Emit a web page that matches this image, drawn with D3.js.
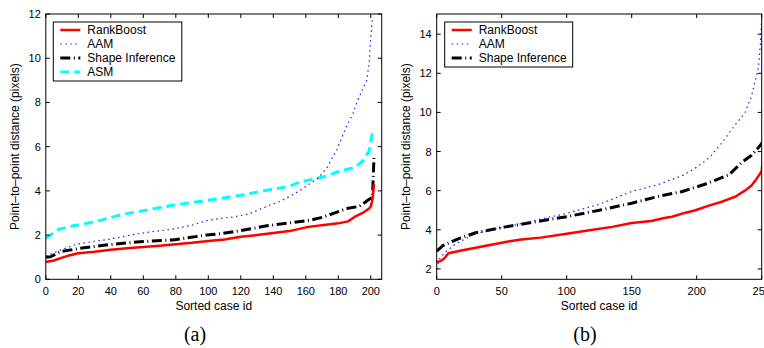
<!DOCTYPE html>
<html>
<head>
<meta charset="utf-8">
<script src="https://cdn.jsdelivr.net/npm/d3@7"></script>
<style>
  body { margin: 0; background: #fff; }
  svg { display: block; }
  text { font-family: "Liberation Sans", Arial, sans-serif; fill: #000; }
</style>
</head>
<body>
<div id="chart"></div>
<script>
// ---- data ----
// panel (a)
const rankIdsA = [0, 5, 10, 13, 20, 30, 40, 50, 60, 70, 80, 90, 100, 110, 120, 130, 140, 150, 160, 170, 180, 186, 190, 195, 199, 200, 201, 202];
const rankValsA = [0.78, 0.85, 0.98, 1.05, 1.18, 1.25, 1.34, 1.40, 1.46, 1.52, 1.59, 1.65, 1.73, 1.80, 1.92, 2.00, 2.09, 2.18, 2.35, 2.45, 2.53, 2.62, 2.82, 3.0, 3.2, 3.3, 3.6, 4.3];
const aamIdsA = [0, 5, 9, 19, 30, 38, 58, 78, 90, 99, 107, 115, 125, 136, 145, 150, 156, 163, 168, 173, 179, 185, 189, 192, 195, 197.5, 199, 200, 201];
const aamValsA = [1.05, 1.2, 1.32, 1.59, 1.72, 1.8, 2.08, 2.27, 2.45, 2.65, 2.75, 2.82, 2.95, 3.3, 3.55, 3.75, 4.0, 4.35, 4.6, 5.05, 5.85, 6.9, 7.5, 8.1, 8.6, 9.0, 9.8, 11.0, 11.8];
const shapeIdsA = [0, 3, 9, 21, 37, 58, 78, 99, 107, 120, 136, 150, 163, 170, 177, 185, 193, 199, 201, 202];
const shapeValsA = [1.0, 1.02, 1.25, 1.4, 1.55, 1.7, 1.78, 2.0, 2.06, 2.2, 2.42, 2.55, 2.68, 2.8, 2.98, 3.2, 3.3, 3.62, 3.7, 5.6];
const asmIdsA = [0, 3, 6, 9, 17, 30, 48, 60, 78, 99, 107, 120, 136, 150, 156, 163, 172, 181, 190, 195, 199, 201];
const asmValsA = [1.85, 2.0, 2.2, 2.28, 2.42, 2.6, 2.95, 3.1, 3.35, 3.57, 3.65, 3.8, 4.03, 4.2, 4.4, 4.5, 4.65, 4.9, 5.05, 5.35, 5.8, 6.7];

// panel (b)
const rankIdsB = [0, 3, 6, 9, 20, 35, 53, 65, 80, 100, 120, 135, 150, 165, 175, 181, 190, 199, 210, 220, 230, 237, 242, 246, 250, 252];
const rankValsB = [2.35, 2.4, 2.55, 2.8, 2.95, 3.15, 3.38, 3.5, 3.6, 3.8, 4.0, 4.15, 4.35, 4.45, 4.6, 4.67, 4.85, 5.0, 5.25, 5.45, 5.7, 6.0, 6.25, 6.6, 7.0, 8.4];
const aamIdsB = [0, 2, 6.6, 15, 30, 45, 60, 80, 100, 125, 150, 170, 190, 200, 210, 220, 230, 237, 242, 247.5, 249, 250, 251];
const aamValsB = [2.0, 2.5, 2.86, 3.3, 3.8, 4.05, 4.24, 4.55, 4.84, 5.3, 5.96, 6.3, 6.8, 7.2, 7.7, 8.5, 9.4, 9.96, 10.8, 12.3, 13.5, 14.8, 15.5];
const shapeIdsB = [0, 5, 17, 30, 53, 75, 100, 125, 150, 170, 189, 205, 215, 225, 235, 242, 248, 252];
const shapeValsB = [2.91, 3.2, 3.55, 3.85, 4.15, 4.4, 4.67, 5.0, 5.36, 5.7, 5.96, 6.3, 6.55, 6.82, 7.46, 7.8, 8.24, 8.6];

const ticksXA = d3.range(0, 201, 20);
const ticksYA = d3.range(0, 13, 2);
const ticksXB = d3.range(0, 251, 50);
const ticksYB = d3.range(2, 15, 2);

// ---- styles ----
const STYLES = {
  'RankBoost':       {color: '#ff0000', width: 2.5, dash: null},
  'AAM':             {color: '#1a1aff', width: 1.2, dash: '1.5,3.5'},
  'Shape Inference': {color: '#000000', width: 3,   dash: '10,3.5,1,3.5'},
  'ASM':             {color: '#00ffff', width: 3,   dash: '9,5'}
};

const W = 764, H = 348;
const svg = d3.select('#chart').append('svg').attr('width', W).attr('height', H);

function zip(ids, vals) { return ids.map((d, i) => [d, vals[i]]); }

function drawPanel(cfg) {
  const g = svg.append('g');
  const x = d3.scaleLinear().domain(cfg.xDomain).range([cfg.left, cfg.right]);
  const y = d3.scaleLinear().domain(cfg.yDomain).range([cfg.bottom, cfg.top]);
  const tl = 4;

  g.append('clipPath').attr('id', cfg.id + '-clip')
    .append('rect')
    .attr('x', cfg.left).attr('y', cfg.top)
    .attr('width', cfg.right - cfg.left).attr('height', cfg.bottom - cfg.top);

  // series
  const line = d3.line().x(d => x(d[0])).y(d => y(d[1]));
  const plot = g.append('g').attr('clip-path', 'url(#' + cfg.id + '-clip)');
  cfg.series.slice().reverse().forEach(s => {
    const st = STYLES[s.name];
    plot.append('path')
      .datum(zip(s.ids, s.vals))
      .attr('d', line)
      .attr('fill', 'none')
      .attr('stroke', st.color)
      .attr('stroke-width', st.width)
      .attr('stroke-linejoin', 'round')
      .attr('stroke-dasharray', st.dash);
  });

  // box
  g.append('rect')
    .attr('x', cfg.left).attr('y', cfg.top)
    .attr('width', cfg.right - cfg.left).attr('height', cfg.bottom - cfg.top)
    .attr('fill', 'none').attr('stroke', '#000').attr('stroke-width', 1);

  // ticks (inside, all four sides)
  cfg.xTicks.forEach(t => {
    const px = x(t);
    g.append('line').attr('x1', px).attr('x2', px).attr('y1', cfg.bottom).attr('y2', cfg.bottom - tl).attr('stroke', '#000');
    g.append('line').attr('x1', px).attr('x2', px).attr('y1', cfg.top).attr('y2', cfg.top + tl).attr('stroke', '#000');
    g.append('text').attr('x', px).attr('y', cfg.bottom + 16)
      .attr('text-anchor', 'middle').style('font-size', '11px').text(t);
  });
  cfg.yTicks.forEach(t => {
    const py = y(t);
    g.append('line').attr('x1', cfg.left).attr('x2', cfg.left + tl).attr('y1', py).attr('y2', py).attr('stroke', '#000');
    g.append('line').attr('x1', cfg.right).attr('x2', cfg.right - tl).attr('y1', py).attr('y2', py).attr('stroke', '#000');
    g.append('text').attr('x', cfg.left - 5).attr('y', py + 4)
      .attr('text-anchor', 'end').style('font-size', '11px').text(t);
  });

  // axis labels
  g.append('text')
    .attr('x', (cfg.left + cfg.right) / 2).attr('y', cfg.bottom + 31)
    .attr('text-anchor', 'middle').style('font-size', '12px')
    .text('Sorted case id');
  g.append('text')
    .attr('transform', 'translate(' + (cfg.left - 27) + ',' + ((cfg.top + cfg.bottom) / 2) + ') rotate(-90)')
    .attr('text-anchor', 'middle').style('font-size', '12px')
    .text('Point\u2013to\u2013point distance (pixels)');

  // caption
  g.append('text')
    .attr('x', cfg.captionX).attr('y', 341)
    .attr('text-anchor', 'middle')
    .style('font-family', '"Liberation Serif", "Times New Roman", serif')
    .style('font-size', '20px')
    .text(cfg.caption);

  // legend
  const lg = g.append('g').attr('transform', 'translate(' + cfg.legendX + ',22)');
  const rowH = 14;
  lg.append('rect')
    .attr('x', 0).attr('y', 0)
    .attr('width', cfg.legendW).attr('height', cfg.series.length * rowH + 3)
    .attr('fill', '#fff').attr('stroke', '#000').attr('stroke-width', 1);
  cfg.series.forEach((s, i) => {
    const st = STYLES[s.name];
    const cy = 8 + i * rowH;
    lg.append('line')
      .attr('x1', 7).attr('x2', 27).attr('y1', cy).attr('y2', cy)
      .attr('stroke', st.color).attr('stroke-width', st.width)
      .attr('stroke-dasharray', st.dash);
    lg.append('text').attr('x', 34).attr('y', cy + 4)
      .style('font-size', '12px').text(s.name);
  });
}

drawPanel({
  id: 'pa', left: 45.8, right: 381.7, top: 14, bottom: 279.3,
  xDomain: [0, 206.7], yDomain: [0, 12],
  xTicks: ticksXA, yTicks: ticksYA,
  caption: '(a)', captionX: 195,
  legendX: 53.3, legendW: 128.5,
  series: [
    {name: 'RankBoost', ids: rankIdsA, vals: rankValsA},
    {name: 'AAM', ids: aamIdsA, vals: aamValsA},
    {name: 'Shape Inference', ids: shapeIdsA, vals: shapeValsA},
    {name: 'ASM', ids: asmIdsA, vals: asmValsA}
  ]
});

drawPanel({
  id: 'pb', left: 436.7, right: 761.7, top: 14, bottom: 279.3,
  xDomain: [0, 250], yDomain: [1.47, 15.03],
  xTicks: ticksXB, yTicks: ticksYB,
  caption: '(b)', captionX: 585,
  legendX: 444.7, legendW: 128,
  series: [
    {name: 'RankBoost', ids: rankIdsB, vals: rankValsB},
    {name: 'AAM', ids: aamIdsB, vals: aamValsB},
    {name: 'Shape Inference', ids: shapeIdsB, vals: shapeValsB}
  ]
});
</script>
</body>
</html>
